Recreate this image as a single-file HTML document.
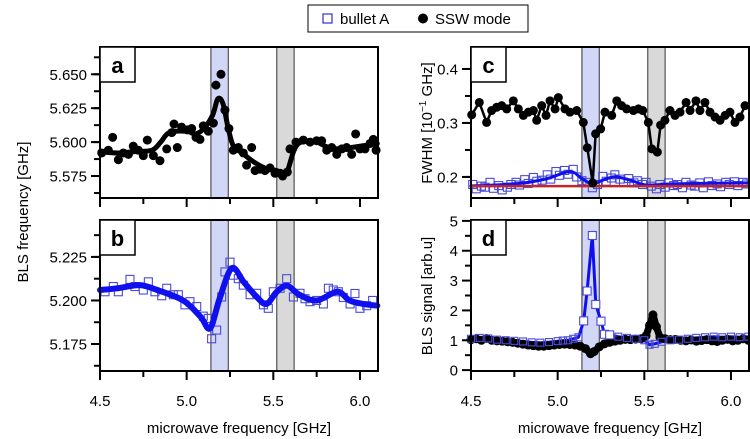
<!DOCTYPE html>
<html><head><meta charset="utf-8"><style>
html,body{margin:0;padding:0;background:#fff}
svg{display:block;font-family:"Liberation Sans",sans-serif}
</style></head><body>
<svg id="fig" width="750" height="439" viewBox="0 0 750 439" xmlns="http://www.w3.org/2000/svg">
<g>
<rect x="308" y="5" width="220" height="27" fill="#fff" stroke="#000" stroke-width="1"/>
<rect x="323" y="14" width="9" height="9" fill="#fff" stroke="#3030d0" stroke-width="1.2"/>
<text x="340" y="24" font-size="15">bullet A</text>
<circle cx="423" cy="18.5" r="5" fill="#000"/>
<text x="435" y="24" font-size="15">SSW mode</text>
</g>
<text transform="translate(28,212) rotate(-90)" text-anchor="middle" font-size="15">BLS frequency [GHz]</text>
<text transform="translate(432,123) rotate(-90)" text-anchor="middle" font-size="15">FWHM [10<tspan dy="-6" font-size="10">−1</tspan><tspan dy="6"> GHz]</tspan></text>
<text transform="translate(432,296) rotate(-90)" text-anchor="middle" font-size="15">BLS signal [arb.u]</text>
<text x="239" y="433" text-anchor="middle" font-size="15">microwave frequency [GHz]</text>
<text x="610" y="433" text-anchor="middle" font-size="15">microwave frequency [GHz]</text>
</svg>
<script>
// ---- shared x ----
const xTicks = [4.5, 5.0, 5.5, 6.0];
const xTickLabels = ["4.5", "5.0", "5.5", "6.0"];
const blueBand = [5.14, 5.24];
const grayBand = [5.52, 5.62];

// ---- panel a: SSW frequency ----
const aFreq = [4.510,4.548,4.573,4.606,4.635,4.664,4.692,4.721,4.750,4.773,4.808,4.846,4.885,4.914,4.927,4.946,4.971,5.004,5.029,5.054,5.077,5.096,5.125,5.154,5.169,5.198,5.221,5.244,5.269,5.298,5.327,5.346,5.375,5.395,5.423,5.452,5.481,5.510,5.539,5.554,5.581,5.596,5.631,5.673,5.712,5.750,5.779,5.808,5.837,5.866,5.895,5.923,5.952,5.975,6.000,6.029,6.058,6.077,6.093];
const aVal = [5.592,5.594,5.6035,5.587,5.592,5.591,5.597,5.594,5.590,5.6015,5.590,5.5863,5.595,5.607,5.6133,5.596,5.611,5.609,5.610,5.6035,5.602,5.612,5.608,5.614,5.642,5.650,5.6236,5.610,5.594,5.596,5.592,5.583,5.596,5.579,5.580,5.579,5.581,5.577,5.577,5.575,5.578,5.595,5.600,5.6015,5.600,5.601,5.601,5.594,5.596,5.591,5.595,5.596,5.591,5.606,5.595,5.595,5.599,5.602,5.594];
const aFitFreq = [4.5,4.6,4.7,4.8,4.85,4.9,5.0,5.05,5.1,5.15,5.18,5.21,5.24,5.27,5.32,5.38,5.45,5.52,5.56,5.58,5.62,5.66,5.75,5.8,5.85,5.95,6.0,6.1];
const aFitVal = [5.593,5.592,5.593,5.594,5.600,5.607,5.608,5.606,5.610,5.620,5.632,5.628,5.610,5.597,5.592,5.586,5.581,5.579,5.576,5.578,5.594,5.600,5.600,5.597,5.595,5.596,5.597,5.599];
const aYTicks = [5.575,5.600,5.625,5.650];
const aYLabels = ["5.575","5.600","5.625","5.650"];

// ---- panel b: bullet frequency ----
const bFreq = [4.529,4.577,4.606,4.673,4.702,4.750,4.779,4.817,4.856,4.885,4.923,4.952,4.990,5.019,5.058,5.096,5.125,5.144,5.173,5.202,5.221,5.250,5.269,5.298,5.327,5.366,5.404,5.443,5.471,5.500,5.539,5.577,5.616,5.654,5.683,5.712,5.750,5.789,5.818,5.846,5.875,5.904,5.943,5.971,6.000,6.039,6.073];
const bVal = [5.205,5.208,5.205,5.2121,5.208,5.206,5.2107,5.205,5.2027,5.207,5.2033,5.2033,5.1975,5.1993,5.1965,5.191,5.1897,5.178,5.183,5.202,5.2164,5.222,5.2145,5.2125,5.2088,5.2033,5.2041,5.1975,5.1955,5.205,5.207,5.2125,5.202,5.2041,5.201,5.1993,5.200,5.198,5.207,5.206,5.205,5.2017,5.198,5.204,5.1955,5.197,5.200];
const bFitFreq = [4.5,4.6,4.73,4.83,4.98,5.08,5.135,5.19,5.26,5.33,5.40,5.46,5.52,5.58,5.65,5.75,5.87,5.94,6.02,6.1];
const bFitVal = [5.206,5.207,5.2088,5.206,5.200,5.1907,5.184,5.201,5.2185,5.2105,5.2025,5.198,5.205,5.2085,5.2033,5.200,5.205,5.200,5.198,5.197];
const bYTicks = [5.175,5.200,5.225];
const bYLabels = ["5.175","5.200","5.225"];

// ---- panel c: FWHM ----
const cSswFreq = [4.504,4.548,4.590,4.619,4.648,4.677,4.706,4.744,4.773,4.802,4.831,4.860,4.879,4.908,4.933,4.956,4.985,5.004,5.042,5.071,5.110,5.148,5.171,5.202,5.219,5.248,5.273,5.312,5.341,5.369,5.398,5.437,5.466,5.491,5.523,5.543,5.575,5.594,5.619,5.648,5.677,5.706,5.741,5.764,5.798,5.821,5.850,5.879,5.908,5.937,5.966,5.994,6.023,6.052,6.081];
const cSswVal = [0.315,0.338,0.301,0.323,0.329,0.332,0.326,0.341,0.326,0.314,0.320,0.323,0.305,0.332,0.314,0.341,0.326,0.347,0.326,0.320,0.323,0.301,0.254,0.189,0.280,0.289,0.320,0.314,0.341,0.332,0.326,0.323,0.326,0.323,0.301,0.252,0.246,0.296,0.305,0.323,0.314,0.320,0.338,0.323,0.341,0.323,0.338,0.320,0.311,0.305,0.314,0.320,0.301,0.311,0.332];
const cBulFreq = [4.51,4.53,4.56,4.58,4.61,4.63,4.66,4.68,4.71,4.73,4.76,4.78,4.81,4.83,4.86,4.88,4.91,4.94,4.96,4.99,5.01,5.04,5.06,5.09,5.11,5.14,5.17,5.20,5.23,5.26,5.28,5.31,5.33,5.36,5.38,5.41,5.44,5.46,5.49,5.51,5.54,5.57,5.59,5.62,5.64,5.67,5.69,5.72,5.74,5.77,5.79,5.82,5.84,5.87,5.89,5.92,5.94,5.97,5.99,6.02,6.04,6.07,6.09];
const cBulVal = [0.186,0.178,0.183,0.181,0.190,0.179,0.184,0.176,0.181,0.186,0.190,0.185,0.195,0.188,0.199,0.192,0.194,0.204,0.196,0.210,0.203,0.212,0.205,0.214,0.200,0.193,0.190,0.180,0.186,0.201,0.192,0.198,0.204,0.196,0.190,0.197,0.189,0.193,0.186,0.190,0.183,0.178,0.186,0.181,0.189,0.184,0.186,0.180,0.190,0.185,0.183,0.189,0.180,0.191,0.184,0.187,0.182,0.190,0.186,0.191,0.184,0.190,0.187];
const cFitFreq = [4.5,4.78,4.94,5.07,5.14,5.20,5.26,5.33,5.42,5.51,5.65,5.84,6.1];
const cFitVal = [0.183,0.188,0.197,0.210,0.197,0.187,0.194,0.2005,0.194,0.185,0.187,0.188,0.189];
const cRefFreq = [4.5,6.1];
const cRefVal = [0.183,0.183];
const cYTicks = [0.2,0.3,0.4];
const cYLabels = ["0.2","0.3","0.4"];

// ---- panel d: BLS signal ----
const dSswFreq = [4.50,4.53,4.56,4.59,4.62,4.65,4.68,4.71,4.74,4.77,4.80,4.83,4.86,4.89,4.92,4.95,4.98,5.01,5.04,5.07,5.10,5.13,5.16,5.19,5.21,5.24,5.27,5.30,5.33,5.36,5.39,5.42,5.45,5.48,5.51,5.53,5.55,5.57,5.59,5.62,5.65,5.68,5.71,5.74,5.77,5.80,5.83,5.86,5.89,5.92,5.95,5.98,6.01,6.04,6.07,6.10];
const dSswVal = [1.02,1.05,1.00,1.06,1.00,0.98,0.97,0.95,0.93,0.90,0.87,0.84,0.82,0.80,0.80,0.82,0.84,0.86,0.87,0.86,0.84,0.80,0.72,0.55,0.62,0.78,0.88,0.93,0.97,1.00,1.03,1.02,1.04,1.05,1.15,1.50,1.85,1.45,1.10,1.05,1.02,1.03,1.00,0.98,1.01,0.97,0.99,1.02,0.98,0.96,1.00,1.03,0.98,1.00,1.05,1.00];
const dBulFreq = [4.50,4.55,4.60,4.65,4.70,4.75,4.80,4.85,4.90,4.95,5.00,5.03,5.06,5.09,5.12,5.15,5.17,5.20,5.22,5.25,5.27,5.30,5.35,5.40,5.45,5.50,5.53,5.56,5.60,5.65,5.70,5.75,5.80,5.85,5.90,5.95,6.00,6.05,6.10];
const dBulVal = [1.05,1.08,1.06,1.02,1.00,0.98,0.96,0.93,0.92,0.94,0.97,0.99,1.00,1.05,1.10,1.65,2.65,4.51,2.20,1.64,1.20,1.18,1.12,1.08,1.05,1.00,0.85,0.88,0.95,1.00,1.02,1.05,1.08,1.10,1.12,1.10,1.12,1.10,1.12];
const dYTicks = [0,1,2,3,4,5];
const dYLabels = ["0","1","2","3","4","5"];

const NS = "http://www.w3.org/2000/svg";
const svg = document.getElementById("fig");
function mk(tag, attrs, parent) {
  const e = document.createElementNS(NS, tag);
  for (const k in attrs) e.setAttribute(k, attrs[k]);
  (parent || svg).appendChild(e);
  return e;
}
function makePanel(px, py, pw, ph, xMin, xMax, yMin, yMax) {
  return {
    sx: v => px + (v - xMin) / (xMax - xMin) * pw,
    sy: v => py + ph - (v - yMin) / (yMax - yMin) * ph,
    px, py, pw, ph
  };
}
function bands(P, g) {
  const b1 = mk("rect", {x: P.sx(blueBand[0]), y: P.py, width: P.sx(blueBand[1]) - P.sx(blueBand[0]), height: P.ph, fill: "#d2d6f7", stroke: "#333", "stroke-width": 1}, g);
  
  
  const b2 = mk("rect", {x: P.sx(grayBand[0]), y: P.py, width: P.sx(grayBand[1]) - P.sx(grayBand[0]), height: P.ph, fill: "#d9d9d9", stroke: "#333", "stroke-width": 1}, g);
  
  
}
function frame(P, g, letter, yTicks, yLabels, yMinor, showXLabels) {
  const f = mk("rect", {x: P.px, y: P.py, width: P.pw, height: P.ph, fill: "none", stroke: "#000", "stroke-width": 2}, g);
  
  
  const xt = mk("g", {}, g);
  
  
  for (let v = 4.5; v <= 6.11; v += 0.25) {
    const major = Math.abs((v * 2) - Math.round(v * 2)) < 1e-6;
    mk("line", {x1: P.sx(v), x2: P.sx(v), y1: P.py + P.ph, y2: P.py + P.ph + (major ? 9 : 6), stroke: "#000", "stroke-width": 2}, xt);
  }
  if (showXLabels) {
    xTicks.forEach((v, i) => {
      const t = mk("text", {x: P.sx(v), y: P.py + P.ph + 35, "text-anchor": "middle", "font-size": 15}, xt);
      
      
      t.textContent = xTickLabels[i];
    });
  }
  const yt = mk("g", {}, g);
  
  
  yMinor.forEach(v => {
    const y = P.sy(v);
    if (y >= P.py - 0.5 && y <= P.py + P.ph + 0.5)
      mk("line", {x1: P.px - 6, x2: P.px, y1: y, y2: y, stroke: "#000", "stroke-width": 2}, yt);
  });
  yTicks.forEach((v, i) => {
    const y = P.sy(v);
    mk("line", {x1: P.px - 9, x2: P.px, y1: y, y2: y, stroke: "#000", "stroke-width": 2}, yt);
    const t = mk("text", {x: P.px - 13, y: y + 5.5, "text-anchor": "end", "font-size": 15}, yt);
    
    
    t.textContent = yLabels[i];
  });
  const lb = mk("g", {}, g);
  
  
  mk("rect", {x: P.px, y: P.py, width: 35, height: 35, fill: "#fff", stroke: "#000", "stroke-width": 1.5}, lb);
  const t = mk("text", {x: P.px + 17.5, y: P.py + 26, "text-anchor": "middle", "font-size": 22, "font-weight": "bold"}, lb);
  t.textContent = letter;
}
function line(P, g, xs, ys, color, w, name) {
  const d = xs.map((x, i) => (i ? "L" : "M") + P.sx(x).toFixed(1) + "," + P.sy(ys[i]).toFixed(1)).join("");
  const p = mk("path", {d: d, fill: "none", stroke: color, "stroke-width": w, "stroke-linejoin": "round", "stroke-linecap": "round"}, g);
  
  
}
function curve(P, g, xs, ys, color, w, name) {
  const pts = xs.map((x, i) => [P.sx(x), P.sy(ys[i])]);
  let d = "M" + pts[0][0].toFixed(1) + "," + pts[0][1].toFixed(1);
  for (let i = 0; i < pts.length - 1; i++) {
    const p0 = pts[Math.max(0, i - 1)], p1 = pts[i], p2 = pts[i + 1], p3 = pts[Math.min(pts.length - 1, i + 2)];
    const c1 = [p1[0] + (p2[0] - p0[0]) / 6, p1[1] + (p2[1] - p0[1]) / 6];
    const c2 = [p2[0] - (p3[0] - p1[0]) / 6, p2[1] - (p3[1] - p1[1]) / 6];
    d += "C" + c1.map(v => v.toFixed(1)).join(",") + " " + c2.map(v => v.toFixed(1)).join(",") + " " + p2[0].toFixed(1) + "," + p2[1].toFixed(1);
  }
  const p = mk("path", {d: d, fill: "none", stroke: color, "stroke-width": w, "stroke-linejoin": "round", "stroke-linecap": "round"}, g);
  
  
}
function dots(P, g, xs, ys, r, name) {
  const gg = mk("g", {}, g);
  
  
  xs.forEach((x, i) => {
    const c = mk("circle", {cx: P.sx(x), cy: P.sy(ys[i]), r: r, fill: "#000"}, gg);
    
    
  });
}
function squares(P, g, xs, ys, s, fill, name) {
  const gg = mk("g", {}, g);
  
  
  xs.forEach((x, i) => {
    const r = mk("rect", {x: P.sx(x) - s / 2, y: P.sy(ys[i]) - s / 2, width: s, height: s, fill: fill, stroke: "#4a4ad8", "stroke-width": 1.1}, gg);
    
    
  });
}
function range(a, b, s) { const o = []; for (let v = a; v <= b + 1e-9; v += s) o.push(+v.toFixed(4)); return o; }

// Panel a
const gA = mk("g", {});  
const PA = makePanel(100, 47, 278, 151, 4.5, 6.104, 5.5588, 5.6701);
bands(PA, gA);
dots(PA, gA, aFreq, aVal, 4.5, 'ssw-frequency-points');
curve(PA, gA, aFitFreq, aFitVal, "#000", 5, 'ssw-frequency-fit');
frame(PA, gA, "a", aYTicks, aYLabels, range(5.5625, 5.6625, 0.0125), false);

// Panel b
const gB = mk("g", {});  
const PB = makePanel(100, 220, 278, 151, 4.5, 6.104, 5.1595, 5.2462);
bands(PB, gB);
squares(PB, gB, bFreq, bVal, 8, "none", 'bullet-frequency-points');
curve(PB, gB, bFitFreq, bFitVal, "#1010ee", 6, 'bullet-frequency-fit');
frame(PB, gB, "b", bYTicks, bYLabels, range(5.1625, 5.2375, 0.0125), true);

// Panel c
const gC = mk("g", {});  
const PC = makePanel(471, 47, 278, 151, 4.5, 6.104, 0.161, 0.4407);
bands(PC, gC);
squares(PC, gC, cBulFreq, cBulVal, 8, "none", 'bullet-fwhm-points');
curve(PC, gC, cFitFreq, cFitVal, "#1010ee", 3, 'bullet-fwhm-fit');
line(PC, gC, cRefFreq, cRefVal, "#c0262c", 2.5, 'reference-fwhm-line');
line(PC, gC, cSswFreq, cSswVal, "#000", 2.5, 'ssw-fwhm-line');
dots(PC, gC, cSswFreq, cSswVal, 4.5, 'ssw-fwhm-points');
frame(PC, gC, "c", cYTicks, cYLabels, range(0.15, 0.45, 0.05), false);

// Panel d
const gD = mk("g", {});  
const PD = makePanel(471, 220, 278, 151, 4.5, 6.104, -0.03, 5.03);
bands(PD, gD);
line(PD, gD, dBulFreq, dBulVal, "#1010ee", 3, 'bullet-signal-line');
line(PD, gD, dSswFreq, dSswVal, "#000", 7, 'ssw-signal-line');
dots(PD, gD, dSswFreq, dSswVal, 4.5, 'ssw-signal-points');
squares(PD, gD, dBulFreq.filter((f, i) => dBulVal[i] > 1.15), dBulVal.filter(v => v > 1.15), 8, "#fff", 'bullet-signal-peak-points');
squares(PD, gD, dBulFreq.filter((f, i) => dBulVal[i] <= 1.15), dBulVal.filter(v => v <= 1.15), 7, "none", 'bullet-signal-points');
frame(PD, gD, "d", dYTicks, dYLabels, range(0.5, 4.5, 1), true);
</script>
</body></html>
